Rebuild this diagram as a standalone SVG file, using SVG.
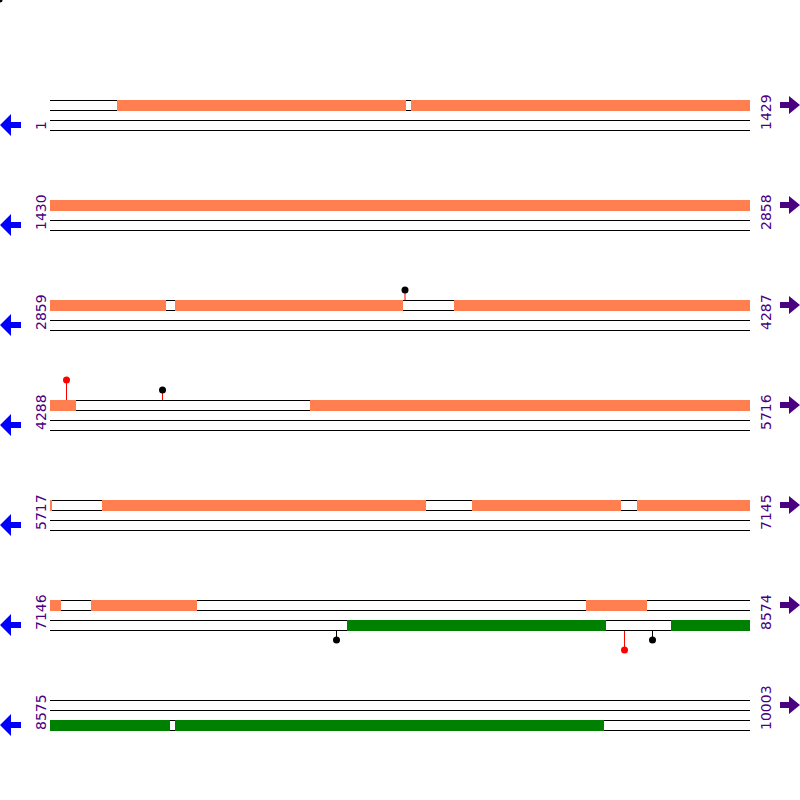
<svg xmlns="http://www.w3.org/2000/svg" width="800" height="800" viewBox="0 0 800 800">
<defs>
<style>
.ln{stroke:#000;stroke-width:1;fill:none}
.or{fill:#FF7F50}
.gr{fill:#008000}
.lbl{font-family:"DejaVu Sans",sans-serif;font-size:14px;fill:#4B0082}
.la{fill:#0000FF}
.ra{fill:#4B0082}
.sr{stroke:#FF0000;stroke-width:1}
.sb{stroke:#000;stroke-width:1}
</style>
<g id="larrow"><polygon class="la" points="0,0 11,-11 11,-3 21,-3 21,3 11,3 11,11"/></g>
<g id="rarrow"><polygon class="ra" points="800,0 789,-9 789,-3 780,-3 780,3 789,3 789,9"/></g>
<g id="lines">
<line class="ln" x1="50" y1="0.5" x2="750" y2="0.5"/>
<line class="ln" x1="50" y1="10.5" x2="750" y2="10.5"/>
<line class="ln" x1="50" y1="20.5" x2="750" y2="20.5"/>
<line class="ln" x1="50" y1="30.5" x2="750" y2="30.5"/>
</g>
</defs>
<rect width="800" height="800" fill="#fff"/>
<circle cx="0" cy="0" r="2.5" fill="#000"/>

<g id="row1" transform="translate(0,100)">
<use href="#lines"/>
<rect class="or" x="117" y="0" width="289" height="11"/>
<rect class="or" x="411" y="0" width="339" height="11"/>
<use href="#larrow" y="25"/><use href="#rarrow" y="5"/>
<text class="lbl" transform="translate(46,30) rotate(-90)">1</text>
<text class="lbl" transform="translate(771,30) rotate(-90)">1429</text>
</g>

<g id="row2" transform="translate(0,200)">
<use href="#lines"/>
<rect class="or" x="50" y="0" width="700" height="11"/>
<use href="#larrow" y="25"/><use href="#rarrow" y="5"/>
<text class="lbl" transform="translate(46,30) rotate(-90)">1430</text>
<text class="lbl" transform="translate(771,30) rotate(-90)">2858</text>
</g>

<g id="row3" transform="translate(0,300)">
<use href="#lines"/>
<rect class="or" x="50" y="0" width="116" height="11"/>
<rect class="or" x="175" y="0" width="228" height="11"/>
<rect class="or" x="454" y="0" width="296" height="11"/>
<line class="sr" x1="405" y1="-10" x2="405" y2="0"/>
<circle cx="405" cy="-10" r="3.5" fill="#000"/>
<use href="#larrow" y="25"/><use href="#rarrow" y="5"/>
<text class="lbl" transform="translate(46,30) rotate(-90)">2859</text>
<text class="lbl" transform="translate(771,30) rotate(-90)">4287</text>
</g>

<g id="row4" transform="translate(0,400)">
<use href="#lines"/>
<rect class="or" x="50" y="0" width="26" height="11"/>
<rect class="or" x="310" y="0" width="440" height="11"/>
<line class="sr" x1="66.5" y1="-20" x2="66.5" y2="0"/>
<circle cx="66.5" cy="-20" r="3.5" fill="#FF0000"/>
<line class="sr" x1="162.5" y1="-10" x2="162.5" y2="0"/>
<circle cx="162.5" cy="-10" r="3.5" fill="#000"/>
<use href="#larrow" y="25"/><use href="#rarrow" y="5"/>
<text class="lbl" transform="translate(46,30) rotate(-90)">4288</text>
<text class="lbl" transform="translate(771,30) rotate(-90)">5716</text>
</g>

<g id="row5" transform="translate(0,500)">
<use href="#lines"/>
<rect class="or" x="50" y="0" width="2" height="11"/>
<rect class="or" x="102" y="0" width="324" height="11"/>
<rect class="or" x="472" y="0" width="149" height="11"/>
<rect class="or" x="637" y="0" width="113" height="11"/>
<use href="#larrow" y="25"/><use href="#rarrow" y="5"/>
<text class="lbl" transform="translate(46,30) rotate(-90)">5717</text>
<text class="lbl" transform="translate(771,30) rotate(-90)">7145</text>
</g>

<g id="row6" transform="translate(0,600)">
<use href="#lines"/>
<rect class="or" x="50" y="0" width="11" height="11"/>
<rect class="or" x="91" y="0" width="106" height="11"/>
<rect class="or" x="586" y="0" width="61" height="11"/>
<rect class="gr" x="347" y="20" width="259" height="11"/>
<rect class="gr" x="671" y="20" width="79" height="11"/>
<line class="sb" x1="336.5" y1="31" x2="336.5" y2="40"/>
<circle cx="336.5" cy="40" r="3.5" fill="#000"/>
<line class="sr" x1="624.5" y1="31" x2="624.5" y2="50"/>
<circle cx="624.5" cy="50" r="3.5" fill="#FF0000"/>
<line class="sb" x1="652.5" y1="31" x2="652.5" y2="40"/>
<circle cx="652.5" cy="40" r="3.5" fill="#000"/>
<use href="#larrow" y="25"/><use href="#rarrow" y="5"/>
<text class="lbl" transform="translate(46,30) rotate(-90)">7146</text>
<text class="lbl" transform="translate(771,30) rotate(-90)">8574</text>
</g>

<g id="row7" transform="translate(0,700)">
<use href="#lines"/>
<rect class="gr" x="50" y="20" width="120" height="11"/>
<rect class="gr" x="175" y="20" width="429" height="11"/>
<use href="#larrow" y="25"/><use href="#rarrow" y="5"/>
<text class="lbl" transform="translate(46,30) rotate(-90)">8575</text>
<text class="lbl" transform="translate(771,30) rotate(-90)">10003</text>
</g>
</svg>
